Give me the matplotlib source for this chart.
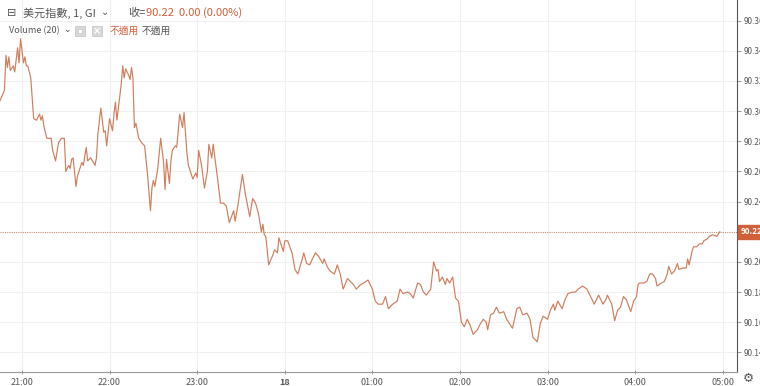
import matplotlib
matplotlib.use("Agg")
import matplotlib.pyplot as plt
from matplotlib.patches import Rectangle

plt.rcParams['font.family'] = ['Noto Sans CJK TC', 'DejaVu Sans']

# minutes after 21:00 (1-minute bars) and close price of the dollar index
minutes = [-15, -12, -11, -10, -9, -8, -6, -5, -3, -2, -1, 1, 2, 3, 4, 6, 8, 10, 12, 13,
           14, 15, 17, 20, 21, 23, 25, 27, 29, 30, 32, 33, 34, 35, 37, 38, 41, 42, 44, 45,
           47, 49, 50, 51, 52, 54, 56, 57, 58, 60, 62, 63, 64, 65, 66, 68, 69, 70, 71, 73,
           74, 75, 76, 77, 78, 80, 82, 84, 86, 88, 89, 90, 91, 93, 95, 97, 98, 99, 101, 102,
           103, 105, 106, 108, 110, 111, 113, 114, 117, 119, 120, 121, 123, 125, 127, 128, 130, 131, 132, 134,
           136, 138, 140, 142, 145, 146, 148, 149, 151, 153, 156, 158, 160, 162, 164, 165, 166, 167, 169, 172,
           173, 175, 176, 179, 180, 182, 185, 187, 189, 192, 193, 195, 197, 199, 201, 203, 206, 207, 209, 211,
           214, 216, 218, 220, 223, 225, 227, 229, 232, 234, 237, 240, 242, 244, 247, 249, 251, 254, 257, 259,
           261, 264, 266, 268, 271, 273, 275, 277, 280, 282, 284, 285, 286, 288, 290, 291, 293, 295, 297, 299,
           301, 303, 305, 307, 309, 312, 314, 316, 318, 319, 321, 323, 325, 327, 330, 332, 334, 336, 339, 341,
           343, 346, 348, 350, 353, 355, 357, 360, 362, 364, 365, 367, 370, 372, 374, 377, 379, 381, 384, 387,
           389, 392, 394, 395, 398, 400, 401, 404, 406, 408, 410, 412, 414, 417, 419, 421, 422, 423, 426, 428,
           430, 432, 434, 435, 438, 440, 442, 443, 445, 447, 449, 450, 453, 455, 456, 457, 459, 460, 462, 464,
           466, 467, 469, 471, 473, 476, 478]
closes = [90.307, 90.314, 90.337, 90.329, 90.336, 90.327, 90.330, 90.326, 90.342, 90.332, 90.348, 90.332, 90.336, 90.330, 90.330, 90.322, 90.295, 90.294, 90.298, 90.294,
          90.297, 90.290, 90.282, 90.282, 90.274, 90.267, 90.279, 90.282, 90.282, 90.260, 90.264, 90.262, 90.268, 90.269, 90.250, 90.257, 90.266, 90.264, 90.276, 90.267,
          90.269, 90.266, 90.264, 90.269, 90.285, 90.302, 90.286, 90.287, 90.277, 90.295, 90.287, 90.298, 90.306, 90.294, 90.302, 90.318, 90.330, 90.322, 90.328, 90.324,
          90.321, 90.329, 90.322, 90.289, 90.292, 90.282, 90.279, 90.277, 90.258, 90.234, 90.249, 90.254, 90.250, 90.262, 90.282, 90.266, 90.248, 90.268, 90.252, 90.267,
          90.274, 90.277, 90.276, 90.298, 90.289, 90.299, 90.272, 90.264, 90.255, 90.259, 90.256, 90.274, 90.264, 90.249, 90.260, 90.278, 90.269, 90.278, 90.270, 90.255,
          90.239, 90.239, 90.237, 90.226, 90.234, 90.227, 90.238, 90.245, 90.258, 90.245, 90.230, 90.242, 90.239, 90.232, 90.220, 90.225, 90.218, 90.217, 90.198, 90.205,
          90.208, 90.206, 90.216, 90.207, 90.214, 90.214, 90.206, 90.195, 90.192, 90.202, 90.206, 90.199, 90.198, 90.202, 90.206, 90.204, 90.199, 90.202, 90.197, 90.194,
          90.192, 90.198, 90.192, 90.182, 90.189, 90.187, 90.185, 90.182, 90.185, 90.186, 90.188, 90.182, 90.174, 90.172, 90.172, 90.177, 90.169, 90.172, 90.174, 90.182,
          90.179, 90.180, 90.179, 90.176, 90.186, 90.185, 90.180, 90.178, 90.182, 90.200, 90.194, 90.195, 90.187, 90.190, 90.185, 90.189, 90.186, 90.190, 90.176, 90.174,
          90.160, 90.157, 90.162, 90.158, 90.152, 90.155, 90.159, 90.162, 90.160, 90.155, 90.165, 90.166, 90.170, 90.166, 90.167, 90.162, 90.159, 90.156, 90.169, 90.170,
          90.165, 90.166, 90.162, 90.150, 90.147, 90.159, 90.164, 90.162, 90.168, 90.172, 90.168, 90.174, 90.169, 90.175, 90.179, 90.180, 90.180, 90.182, 90.184, 90.182,
          90.178, 90.172, 90.176, 90.178, 90.172, 90.175, 90.178, 90.172, 90.161, 90.168, 90.170, 90.177, 90.175, 90.167, 90.174, 90.177, 90.185, 90.186, 90.186, 90.187,
          90.192, 90.192, 90.189, 90.184, 90.186, 90.187, 90.192, 90.197, 90.192, 90.194, 90.199, 90.195, 90.196, 90.196, 90.202, 90.198, 90.207, 90.210, 90.210, 90.212,
          90.212, 90.214, 90.215, 90.217, 90.218, 90.217, 90.220]

last_price = 90.22
hour_ticks = [0, 60, 120, 180, 240, 300, 360, 420, 480]
hour_labels = ['21:00', '22:00', '23:00', '18', '01:00', '02:00', '03:00', '04:00', '05:00']
price_ticks = [90.14, 90.16, 90.18, 90.20, 90.22, 90.24, 90.26, 90.28, 90.30, 90.32, 90.34, 90.36]

line_color = '#d07d5c'
text_gray = '#555555'
accent = '#d0603a'

fig = plt.figure(figsize=(7.6, 3.86), dpi=100)
ax = fig.add_axes([0, 14 / 386, 737 / 760, 372 / 386])

ax.plot(minutes, closes, color=line_color, lw=0.85)
ax.axhline(last_price, color='#c89070', lw=0.8, ls=(0, (1, 1)))

ax.set_xlim(-15.07, 489.8)
ax.set_ylim(90.127, 90.3737)

ax.set_xticks(hour_ticks)
ax.set_xticklabels(hour_labels)
for lab in ax.get_xticklabels():
    if lab.get_text() == '18':
        lab.set_fontweight('bold')
ax.set_yticks([p for p in price_ticks if p != last_price])
ax.set_yticklabels(['%.2f' % p for p in price_ticks if p != last_price])
ax.yaxis.tick_right()
ax.tick_params(axis='y', colors='#888888', labelcolor=text_gray, labelsize=5.8,
               length=3, width=0.6, pad=1.5)
ax.tick_params(axis='x', colors='#888888', labelcolor=text_gray, labelsize=6.5,
               length=3, width=0.6, direction='inout', pad=3)

ax.grid(True, color='#f0f0f0', lw=0.8)
ax.set_axisbelow(True)
for side in ['top', 'left']:
    ax.spines[side].set_visible(False)
ax.spines['right'].set_color('#555555')
ax.spines['bottom'].set_color('#999999')
ax.spines['right'].set_linewidth(0.8)
ax.spines['bottom'].set_linewidth(0.8)

# last price box on the axis
ax.annotate('%.2f' % last_price, xy=(1, last_price), xycoords=('axes fraction', 'data'),
            xytext=(2.5, 0), textcoords='offset points', ha='left', va='center',
            fontsize=5.8, color='white', fontweight='bold',
            bbox=dict(boxstyle='square,pad=0.3', fc=accent, ec=accent),
            annotation_clip=False)

# header legend
def px(x, y):
    return x / 760, 1 - y / 386

fig.text(*px(7, 13), '⊟', fontsize=8, color=text_gray, va='center')
fig.text(*px(23, 13), '美元指數, 1, GI', fontsize=8, color=text_gray, va='center')
fig.text(*px(101, 12), '⌄', fontsize=7, color=text_gray, va='center', family=['DejaVu Sans'])
fig.text(*px(128, 13), '收=', fontsize=8, color=text_gray, va='center')
fig.text(*px(146, 13), '90.22  0.00 (0.00%)', fontsize=8, color=accent, va='center')

fig.text(*px(9, 31), 'Volume (20)', fontsize=6.5, color=text_gray, va='center')
fig.text(*px(63, 30), '⌄', fontsize=6.5, color=text_gray, va='center', family=['DejaVu Sans'])
fig.patches.append(Rectangle(px(75, 36), 10 / 760, 10 / 386, transform=fig.transFigure,
                             fc='#d8d8d8', ec='#c8c8c8', lw=0.6))
fig.patches.append(Rectangle(px(78, 33), 4 / 760, 4 / 386, transform=fig.transFigure,
                             fc='white', ec='#c8c8c8', lw=0.5))
fig.patches.append(Rectangle(px(92, 36), 10 / 760, 10 / 386, transform=fig.transFigure,
                             fc='#d8d8d8', ec='#c8c8c8', lw=0.6))
fig.text(*px(97, 31), '×', fontsize=7, color='white', va='center', ha='center',
         family=['DejaVu Sans'], fontweight='bold')
fig.text(*px(110, 31), '不適用', fontsize=7, color=accent, va='center')
fig.text(*px(142, 31), '不適用', fontsize=7, color=text_gray, va='center')

# settings gear in the corner
fig.text(*px(748, 378), '⚙', fontsize=9, color=text_gray, va='center', ha='center',
         family=['DejaVu Sans'])

fig.savefig('out.png', dpi=100, facecolor='white')
